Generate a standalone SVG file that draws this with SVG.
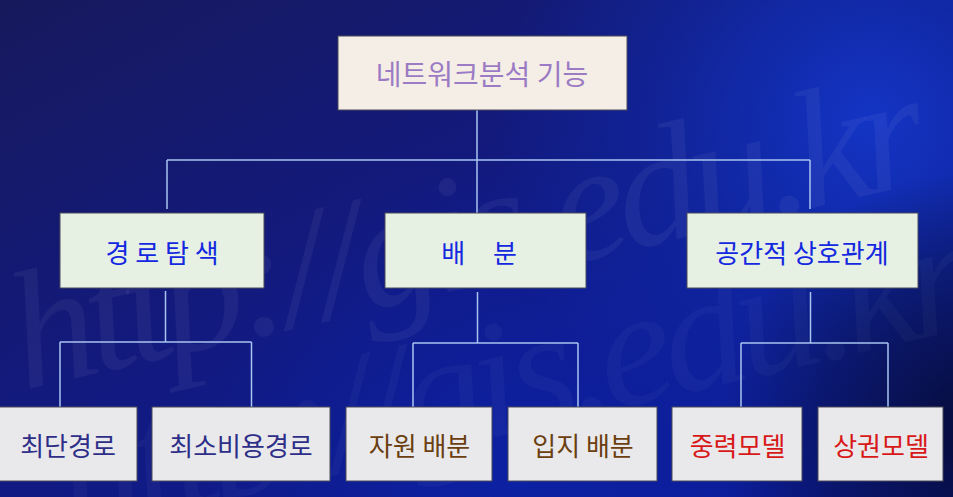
<svg xmlns="http://www.w3.org/2000/svg" width="953" height="497" viewBox="0 0 953 497">
  <defs>
    <linearGradient id="bg" x1="0" y1="0" x2="1" y2="1">
      <stop offset="0" stop-color="#17195c"/>
      <stop offset="0.45" stop-color="#121a80"/>
      <stop offset="1" stop-color="#0a1c9c"/>
    </linearGradient>
    <radialGradient id="hi" cx="870" cy="120" r="380" gradientUnits="userSpaceOnUse">
      <stop offset="0" stop-color="#1436c8" stop-opacity="0.95"/>
      <stop offset="0.6" stop-color="#1030b8" stop-opacity="0.35"/>
      <stop offset="1" stop-color="#1030b8" stop-opacity="0"/>
    </radialGradient>
    <radialGradient id="dk" cx="980" cy="430" r="260" gradientUnits="userSpaceOnUse">
      <stop offset="0" stop-color="#060a30" stop-opacity="0.95"/>
      <stop offset="0.6" stop-color="#080e40" stop-opacity="0.5"/>
      <stop offset="1" stop-color="#080e40" stop-opacity="0"/>
    </radialGradient>
    <radialGradient id="bm" cx="520" cy="480" r="320" gradientUnits="userSpaceOnUse">
      <stop offset="0" stop-color="#0c24b0" stop-opacity="0.6"/>
      <stop offset="1" stop-color="#0c24b0" stop-opacity="0"/>
    </radialGradient>
  </defs>
  <style>
    .box { stroke: #4a4a5a; stroke-width: 1; }
    .top { fill: #f5eee6; }
    .mid { fill: #e6f1e4; }
    .bot { fill: #e9e9eb; }
    .lbl { font-family: "Noto Sans CJK KR", "Noto Sans", sans-serif; font-size: 26px; text-anchor: middle; dominant-baseline: central; }
    .t1 { fill: #9b7bc4; font-size: 28px; }
    .t2 { fill: #1428e0; }
    .t3 { fill: #2e2e88; }
    .t4 { fill: #6b3f10; }
    .t5 { fill: #d81818; }
    .conn line { stroke: #a8c4f0; stroke-width: 1.5; }
    .wm { font-family: "Liberation Serif", serif; font-style: italic; font-size: 168px; fill: #ffffff; }
  </style>

  <rect x="0" y="0" width="953" height="497" fill="url(#bg)"/>
  <rect x="0" y="0" width="953" height="497" fill="url(#bm)"/>
  <rect x="0" y="0" width="953" height="497" fill="url(#hi)"/>
  <rect x="0" y="0" width="953" height="497" fill="url(#dk)"/>

  <g id="watermark">
    <text class="wm" fill-opacity="0.05" transform="translate(24,390) rotate(-13)" textLength="935" lengthAdjust="spacing">http://gis.edu.kr</text>
    <text class="wm" fill-opacity="0.03" transform="translate(70,535) rotate(-13)" textLength="935" lengthAdjust="spacing">http://gis.edu.kr</text>
  </g>

  <g id="connectors" class="conn">
    <line x1="477" y1="110" x2="477" y2="213"/>
    <line x1="167" y1="160" x2="810" y2="160"/>
    <line x1="167" y1="160" x2="167" y2="209"/>
    <line x1="810" y1="160" x2="810" y2="209"/>

    <line x1="165.5" y1="291" x2="165.5" y2="342"/>
    <line x1="60" y1="342" x2="251.5" y2="342"/>
    <line x1="60" y1="342" x2="60" y2="407"/>
    <line x1="251.5" y1="342" x2="251.5" y2="407"/>

    <line x1="477.5" y1="292" x2="477.5" y2="343"/>
    <line x1="413" y1="343" x2="578" y2="343"/>
    <line x1="413" y1="343" x2="413" y2="407"/>
    <line x1="578" y1="343" x2="578" y2="407"/>

    <line x1="810.5" y1="292" x2="810.5" y2="343"/>
    <line x1="741" y1="343" x2="888" y2="343"/>
    <line x1="741" y1="343" x2="741" y2="407"/>
    <line x1="888" y1="343" x2="888" y2="407"/>
  </g>

  <g id="root">
    <rect class="box top" x="338" y="36" width="289" height="74"/>
    <text class="lbl t1" x="482" y="73">네트워크분석 기능</text>
  </g>

  <g id="route-search">
    <rect class="box mid" x="60" y="213" width="204" height="75"/>
    <text class="lbl t2" x="162" y="251">경 로 탐 색</text>
  </g>
  <g id="allocation">
    <rect class="box mid" x="385" y="213" width="201" height="75"/>
    <text class="lbl t2" x="479" y="251" word-spacing="22">배 분</text>
  </g>
  <g id="spatial-interaction">
    <rect class="box mid" x="687" y="213" width="231" height="75"/>
    <text class="lbl t2" x="802" y="251">공간적 상호관계</text>
  </g>

  <g id="shortest-path">
    <rect class="box bot" x="-2" y="407" width="139" height="74"/>
    <text class="lbl t3" x="68" y="444">최단경로</text>
  </g>
  <g id="least-cost-path">
    <rect class="box bot" x="152" y="407" width="178" height="74"/>
    <text class="lbl t3" x="241" y="444">최소비용경로</text>
  </g>
  <g id="resource-allocation">
    <rect class="box bot" x="346" y="407" width="146" height="74"/>
    <text class="lbl t4" x="419.5" y="444">자원 배분</text>
  </g>
  <g id="location-allocation">
    <rect class="box bot" x="508" y="407" width="149" height="74"/>
    <text class="lbl t4" x="583" y="444">입지 배분</text>
  </g>
  <g id="gravity-model">
    <rect class="box bot" x="672" y="407" width="130" height="74"/>
    <text class="lbl t5" x="737.5" y="444">중력모델</text>
  </g>
  <g id="trade-area-model">
    <rect class="box bot" x="818" y="407" width="125" height="74"/>
    <text class="lbl t5" x="881" y="444">상권모델</text>
  </g>
</svg>
